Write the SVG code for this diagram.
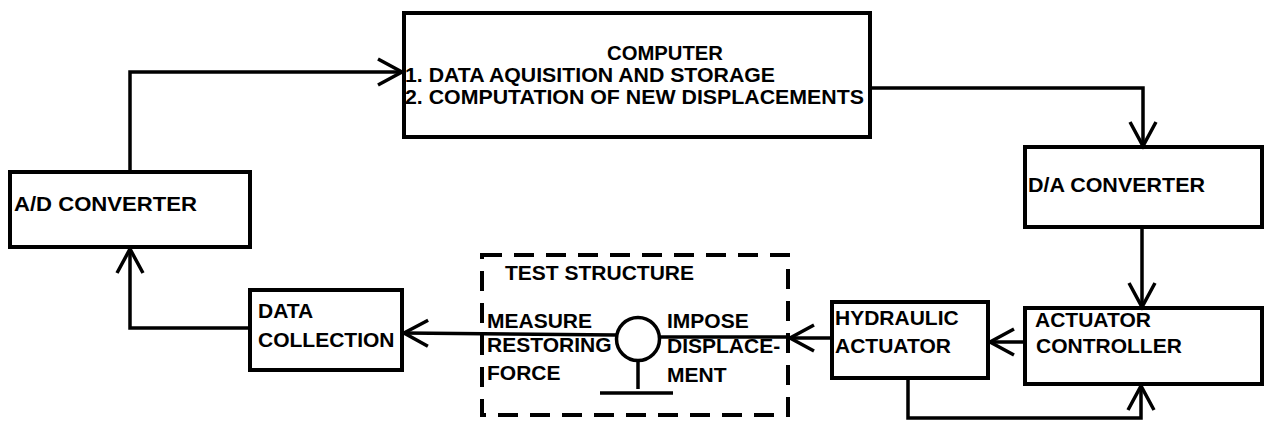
<svg xmlns="http://www.w3.org/2000/svg" width="1269" height="425" viewBox="0 0 1269 425">
<style>
.box{fill:none;stroke:#000;stroke-width:4}
.dash{fill:none;stroke:#000;stroke-width:4;stroke-dasharray:20 12}
.ln{fill:none;stroke:#000;stroke-width:3.5}
.arr{fill:none;stroke:#000;stroke-width:3.5;marker-end:url(#ah)}
text{font-family:"Liberation Sans",Arial,sans-serif;font-weight:bold;font-size:21px;fill:#000}
.sm{font-size:20px}
</style>
<defs>
<marker id="ah" markerUnits="userSpaceOnUse" markerWidth="40" markerHeight="40" refX="0" refY="0" viewBox="-30 -20 40 40" orient="auto" overflow="visible">
<path d="M-24,-13 L0,0 L-24,13" fill="none" stroke="#000" stroke-width="3.5"/>
</marker>
</defs>
<rect width="1269" height="425" fill="#fff"/>
<g id="computer">
<rect class="box" x="404" y="13" width="466" height="124"/>
<text class="sm" x="665" y="60" text-anchor="middle" textLength="116" lengthAdjust="spacingAndGlyphs">COMPUTER</text>
<text class="sm" x="405" y="82" textLength="370" lengthAdjust="spacingAndGlyphs">1. DATA AQUISITION AND STORAGE</text>
<text class="sm" x="405" y="104" textLength="459" lengthAdjust="spacingAndGlyphs">2. COMPUTATION OF NEW DISPLACEMENTS</text>
</g>
<g id="ad-converter">
<rect class="box" x="10" y="172" width="240" height="75"/>
<text x="14" y="211" textLength="183" lengthAdjust="spacingAndGlyphs">A/D CONVERTER</text>
</g>
<g id="da-converter">
<rect class="box" x="1025" y="147" width="237" height="80"/>
<text x="1028" y="192" textLength="177" lengthAdjust="spacingAndGlyphs">D/A CONVERTER</text>
</g>
<g id="actuator-controller">
<rect class="box" x="1025" y="308" width="237" height="76"/>
<text x="1035" y="327">ACTUATOR</text>
<text x="1036" y="353">CONTROLLER</text>
</g>
<g id="hydraulic-actuator">
<rect class="box" x="832" y="302" width="156" height="76"/>
<text x="835" y="325">HYDRAULIC</text>
<text x="835" y="353">ACTUATOR</text>
</g>
<g id="data-collection">
<rect class="box" x="250" y="290" width="152" height="80"/>
<text x="258" y="318">DATA</text>
<text x="258" y="347">COLLECTION</text>
</g>
<g id="test-structure">
<rect class="dash" x="482" y="255" width="306" height="160"/>
<text x="505" y="280">TEST STRUCTURE</text>
<circle cx="638" cy="339" r="21.5" fill="none" stroke="#000" stroke-width="3.5"/>
<line class="ln" x1="638" y1="361" x2="638" y2="389"/>
<line class="ln" x1="600" y1="393" x2="673" y2="393"/>
<text x="487" y="328">MEASURE</text>
<text x="487" y="352">RESTORING</text>
<text x="487" y="380">FORCE</text>
<text x="667" y="328">IMPOSE</text>
<text x="667" y="353">DISPLACE-</text>
<text x="667" y="382">MENT</text>
</g>
<g id="connectors">
<path class="arr" d="M130,172 L130,72 L402,72"/>
<path class="arr" d="M870,88 L1143,88 L1143,146"/>
<path class="arr" d="M1142,227 L1142,307"/>
<path class="arr" d="M1025,342 L990,342"/>
<path class="arr" d="M908,378 L908,418 L1141,418 L1141,386"/>
<path class="arr" d="M832,338 L790,338"/>
<path class="ln" d="M790,337 L660,337"/>
<path class="arr" d="M617,335 L404,333"/>
<path class="arr" d="M250,328 L130,328 L130,249"/>
</g>
</svg>
